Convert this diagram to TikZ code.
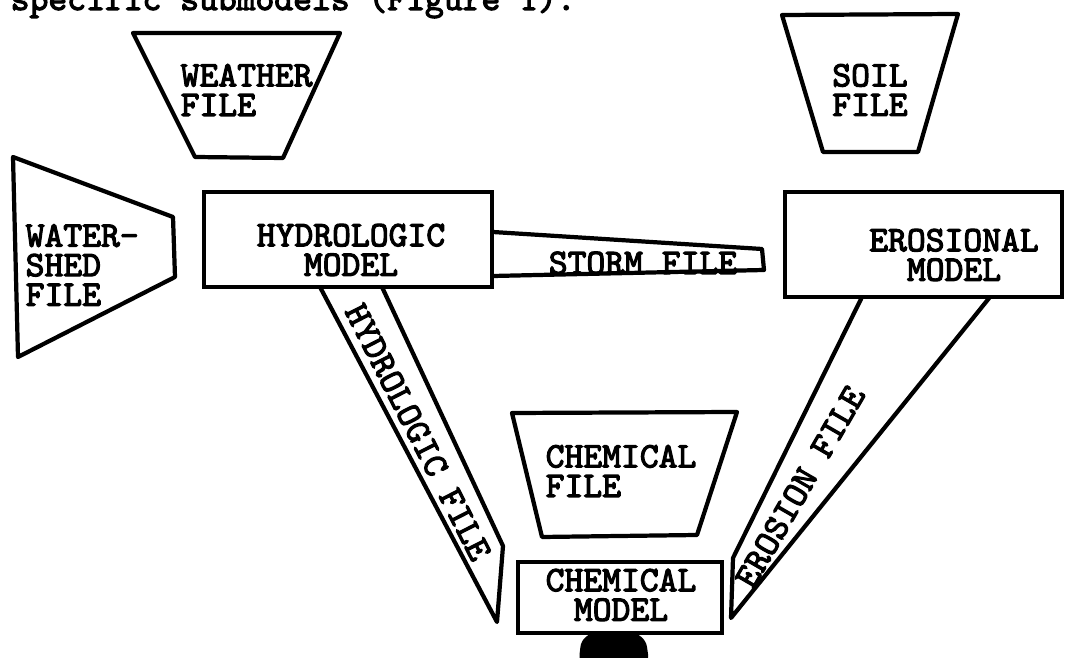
\documentclass[tikz,border=0pt]{standalone}
\usepackage{fontspec}
\setmonofont{Latin Modern Mono}[AutoFakeBold=3.2]
\begin{document}
\begin{tikzpicture}[x=0.01cm,y=-0.01cm,
  outline/.style={draw,line width=1.2pt,line join=round},
  modelbox/.style={draw,line width=1.2pt,inner sep=0pt},
  lbl/.style={font=\ttfamily\bfseries\fontsize{10.2}{8.4}\selectfont,inner sep=0pt,align=left},
  clbl/.style={font=\ttfamily\bfseries\fontsize{10.2}{8.4}\selectfont,inner sep=0pt,align=center}]
\useasboundingbox (0,0) rectangle (1072,658);
\clip (0,0) rectangle (1072,658);

% caption line cut at the top
\node[lbl,anchor=base west] (cap) at (10,10) {specific submodels (Figure 1).};

% weather file
\coordinate (wa) at (133,33); \coordinate (wb) at (340,33);
\coordinate (wc) at (283,158); \coordinate (wd) at (195,157);
\draw[outline] (wa)--(wb)--(wc)--(wd)--cycle;
\node[lbl,anchor=west] (weather) at (180,90) {WEATHER\\FILE};

% soil file
\coordinate (sa) at (782,15); \coordinate (sb) at (958,14);
\coordinate (sc) at (918,152); \coordinate (sd) at (823,152);
\draw[outline] (sa)--(sb)--(sc)--(sd)--cycle;
\node[clbl] (soil) at (870,90) {SOIL\\FILE};

% watershed file
\coordinate (ha) at (13,157); \coordinate (hb) at (173,217);
\coordinate (hc) at (175,277); \coordinate (hd) at (18,357);
\draw[outline] (ha)--(hb)--(hc)--(hd)--cycle;
\node[lbl,anchor=west] (watershed) at (25,265) {WATER-\\SHED\\FILE};

% hydrologic model
\node[modelbox,minimum width=2.88cm,minimum height=0.95cm] (hyd) at (348,239.5) {};
\node[clbl] (hydt) at (351,250) {HYDROLOGIC\\MODEL};

% erosional model
\node[modelbox,minimum width=2.77cm,minimum height=1.05cm] (ero) at (923.5,244.5) {};
\node[clbl] (erot) at (954,255) {EROSIONAL\\MODEL};

% chemical file
\coordinate (ca) at (512,413); \coordinate (cb) at (737,412);
\coordinate (cc) at (697,535); \coordinate (cd) at (542,537);
\draw[outline] (ca)--(cb)--(cc)--(cd)--cycle;
\node[lbl,anchor=west] (chemf) at (545,471) {CHEMICAL\\FILE};

% chemical model
\node[modelbox,minimum width=2.04cm,minimum height=0.71cm] (chem) at (620,597.5) {};
\node[clbl] (chemt) at (621,595) {CHEMICAL\\MODEL};
\fill[rounded corners=4pt] (582,633) -- (645,633) -- (650,668) -- (578,668) -- cycle;

% storm file band
\coordinate (st1) at (493,232); \coordinate (st2) at (762,249);
\coordinate (st3) at (764,270); \coordinate (st4) at (493,276);
\draw[outline] (st1)--(st2)--(st3)--(st4);
\node[clbl] (storm) at (643,263) {STORM FILE};

% hydrologic file band
\coordinate (hf1) at (320,287); \coordinate (hf2) at (382,287);
\coordinate (hf3) at (503,546); \coordinate (hf4) at (497,622);
\draw[outline] (hf1)--(hf4)--(hf3)--(hf2);
\node[clbl,rotate=-63] (hydf) at (418,432) {HYDROLOGIC FILE};

% erosion file band
\coordinate (ef1) at (862,297); \coordinate (ef2) at (990,297);
\coordinate (ef3) at (733,558); \coordinate (ef4) at (731,618);
\draw[outline] (ef1)--(ef3)--(ef4)--(ef2);
\node[clbl,rotate=60] (erof) at (800,487) {EROSION FILE};
\end{tikzpicture}
\end{document}
